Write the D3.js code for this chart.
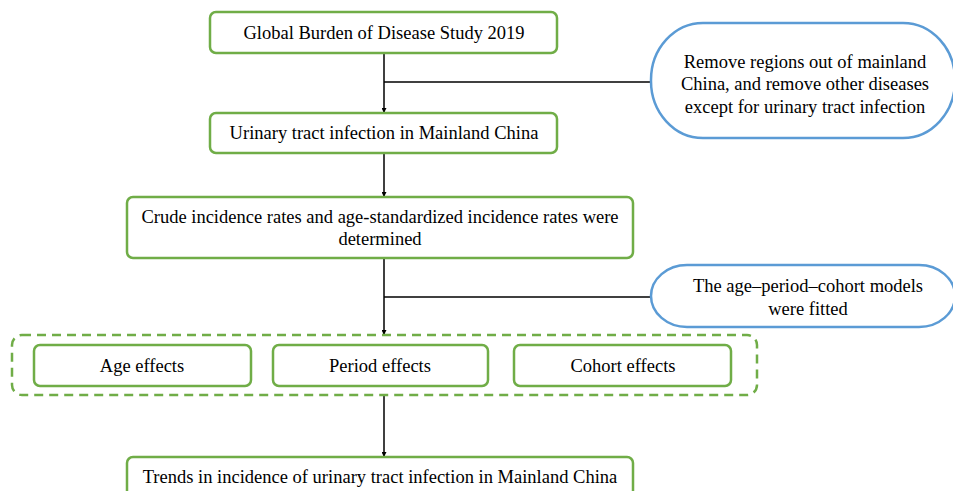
<!DOCTYPE html>
<html><head><meta charset="utf-8">
<script src="https://cdn.jsdelivr.net/npm/d3@7"></script>
<style>html,body{margin:0;padding:0;background:#fff;overflow:hidden}</style>
</head><body>
<script>
// ---- content ----
const mainSteps = [
  ["Global Burden of Disease Study 2019"],
  ["Urinary tract infection in Mainland China"],
  ["Crude incidence rates and age-standardized incidence rates were", "determined"],
  ["Trends in incidence of urinary tract infection in Mainland China"]
];
const sideNotes = [
  ["Remove regions out of mainland", "China, and remove other diseases", "except for urinary tract infection"],
  ["The age\u2013period\u2013cohort models", "were fitted"]
];
const effects = ["Age effects", "Period effects", "Cohort effects"];

// ---- layout ----
const W = 953, H = 491;
const green = "#70AD47", blue = "#5B9BD5";
const font = '"Liberation Serif"';
const fs = 18.5, lh = 22.5;
const mainBoxes = [
  {x:210, y:12, w:347, h:41, cx:384},
  {x:210, y:113, w:347, h:40, cx:384},
  {x:127, y:197, w:506, h:61, cx:380},
  {x:127, y:457, w:506, h:50, cx:380, ty:477}
];
const noteBoxes = [
  {x:651, y:23, w:304, h:115, rx:52, ry:57, cx:805, cy:84},
  {x:651, y:265, w:304, h:62, rx:36, ry:31, cx:808, cy:297}
];
const effBoxes = [
  {x:34, y:345, w:217, h:41, cx:142},
  {x:273, y:345, w:215, h:41, cx:380},
  {x:514, y:345, w:217, h:41, cx:623}
];
const group = {x:12, y:335, w:745, h:60};

const svg = d3.select("body").append("svg").attr("width", W).attr("height", H);
const defs = svg.append("defs");
defs.append("marker").attr("id","ah").attr("viewBox","0 0 10 10").attr("refX",10).attr("refY",5)
  .attr("markerWidth",5).attr("markerHeight",5).attr("markerUnits","userSpaceOnUse").attr("orient","auto")
  .append("path").attr("d","M0,0L10,5L0,10Z").attr("fill","#000");

function ml(lines, cx, cy){
  const g = svg.append("text").style("font-family",font).style("font-size",fs+"px").attr("fill","#000")
    .attr("text-anchor","middle");
  lines.forEach((t,i)=>{
    g.append("tspan").attr("x",cx).attr("y", cy + (i-(lines.length-1)/2)*lh).attr("dy","0.35em").text(t);
  });
}
function arrow(x, y1, y2){
  svg.append("line").attr("x1",x).attr("x2",x).attr("y1",y1).attr("y2",y2)
    .attr("stroke","#000").attr("stroke-width",1.5).attr("marker-end","url(#ah)");
}
function hline(x1,x2,y){
  svg.append("line").attr("x1",x1).attr("x2",x2).attr("y1",y).attr("y2",y)
    .attr("stroke","#000").attr("stroke-width",1.5);
}

// connectors
arrow(384, 53, 113);
hline(384, 652, 82);
arrow(384, 153, 197);
arrow(384, 258, 335);
hline(384, 652, 297);
arrow(384, 395, 457);

// group dashed box
svg.append("rect").attr("x",group.x).attr("y",group.y).attr("width",group.w).attr("height",group.h)
  .attr("rx",10).attr("fill","none").attr("stroke",green).attr("stroke-width",2.5)
  .attr("stroke-dasharray","9,6");

// main boxes
mainBoxes.forEach((b,i)=>{
  svg.append("rect").attr("x",b.x).attr("y",b.y).attr("width",b.w).attr("height",b.h)
    .attr("rx",6).attr("fill","#fff").attr("stroke",green).attr("stroke-width",2.5);
  ml(mainSteps[i], b.cx, b.ty !== undefined ? b.ty : b.y + b.h/2);
});
effBoxes.forEach((b,i)=>{
  svg.append("rect").attr("x",b.x).attr("y",b.y).attr("width",b.w).attr("height",b.h)
    .attr("rx",6).attr("fill","#fff").attr("stroke",green).attr("stroke-width",2.5);
  ml([effects[i]], b.cx, b.y + b.h/2);
});
noteBoxes.forEach((b,i)=>{
  svg.append("rect").attr("x",b.x).attr("y",b.y).attr("width",b.w).attr("height",b.h)
    .attr("rx",b.rx).attr("ry",b.ry).attr("fill","#fff").attr("stroke",blue).attr("stroke-width",2.5);
  ml(sideNotes[i], b.cx, b.cy);
});
</script>
</body></html>
